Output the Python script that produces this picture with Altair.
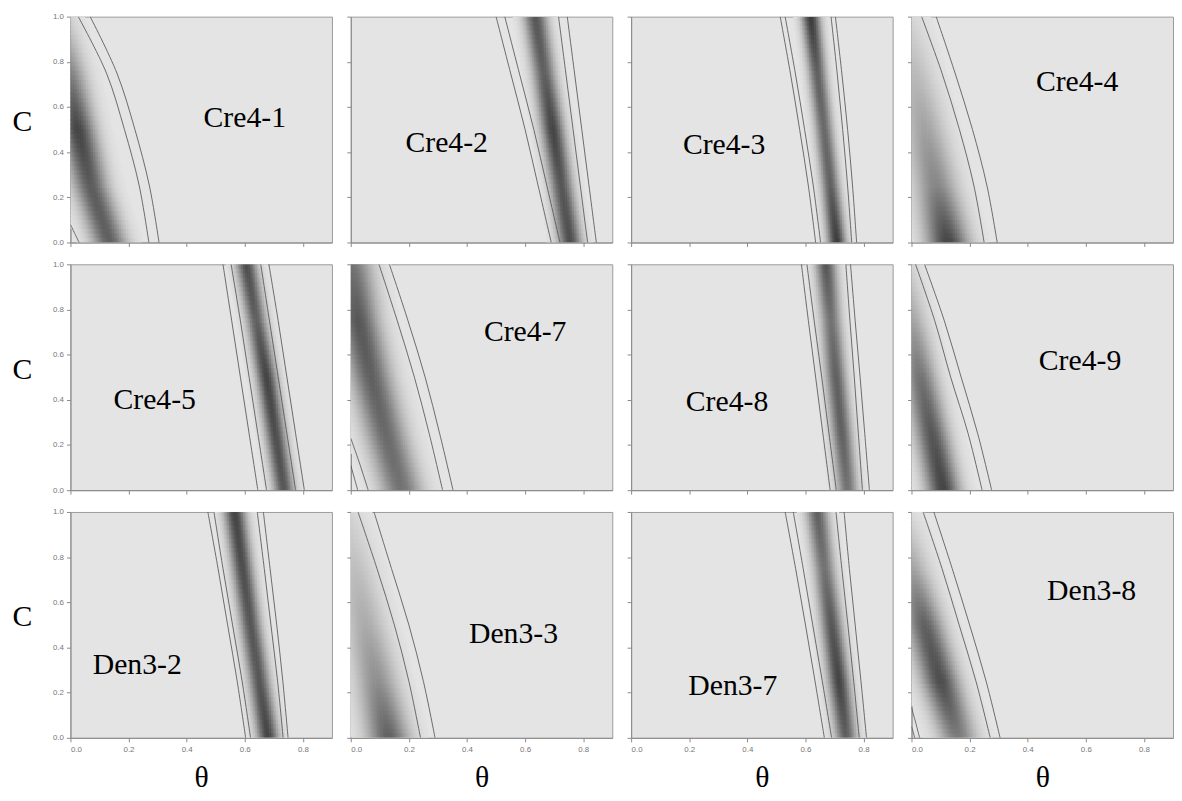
import numpy as np
import pandas as pd
import altair as alt

# ---------------- data ----------------
NAMES = ["Cre4-1", "Cre4-2", "Cre4-3", "Cre4-4",
         "Cre4-5", "Cre4-7", "Cre4-8", "Cre4-9",
         "Den3-2", "Den3-3", "Den3-7", "Den3-8"]

# where each panel name sits (theta, C)
LABEL_THETA = [0.60, 0.33, 0.32, 0.57, 0.29, 0.60, 0.33, 0.58, 0.23, 0.56, 0.35, 0.62]
LABEL_C = [0.55, 0.44, 0.43, 0.71, 0.40, 0.70, 0.39, 0.57, 0.32, 0.46, 0.23, 0.65]

# C levels at which ridge / contour positions were read
C_LEVELS = [0.0, 0.25, 0.5, 0.75, 1.0]

# ridge (dark band) centre theta at each C level
RIDGE_CENTER = [
    [0.135, 0.070, 0.025, -0.010, -0.050],
    [0.755, 0.725, 0.695, 0.665, 0.635],
    [0.708, 0.686, 0.664, 0.641, 0.618],
    [0.125, 0.085, 0.045, 0.005, -0.035],
    [0.735, 0.705, 0.675, 0.640, 0.605],
    [0.175, 0.120, 0.070, 0.025, 0.000],
    [0.745, 0.725, 0.705, 0.688, 0.670],
    [0.110, 0.070, 0.030, -0.005, -0.040],
    [0.680, 0.650, 0.620, 0.592, 0.565],
    [0.130, 0.090, 0.050, 0.010, -0.030],
    [0.740, 0.715, 0.690, 0.665, 0.640],
    [0.160, 0.100, 0.045, -0.005, -0.050],
]
# ridge darkness (0 = background, 1 = black) at each C level
RIDGE_PEAK = [
    [0.70, 0.72, 0.85, 0.55, 0.20],
    [0.80, 0.75, 0.85, 0.70, 0.75],
    [0.90, 0.70, 0.65, 0.70, 0.90],
    [0.85, 0.50, 0.35, 0.22, 0.10],
    [0.75, 0.80, 0.85, 0.70, 0.80],
    [0.60, 0.65, 0.70, 0.75, 0.60],
    [0.60, 0.70, 0.70, 0.60, 0.75],
    [0.85, 0.75, 0.60, 0.35, 0.15],
    [0.85, 0.75, 0.75, 0.80, 0.85],
    [0.70, 0.45, 0.30, 0.20, 0.10],
    [0.70, 0.85, 0.75, 0.60, 0.70],
    [0.55, 0.80, 0.70, 0.35, 0.10],
]
# ridge half-width (theta units)
RIDGE_WIDTH = [0.042, 0.028, 0.022, 0.05, 0.025, 0.05, 0.025, 0.04, 0.026, 0.05, 0.026, 0.045]

# contour lines: theta at each C level
CONTOURS = [
    [[0.270, 0.237, 0.186, 0.124, 0.027], [0.305, 0.272, 0.222, 0.160, 0.068]],
    [[0.690, 0.645, 0.600, 0.550, 0.500], [0.720, 0.675, 0.630, 0.580, 0.530],
     [0.815, 0.790, 0.765, 0.740, 0.715], [0.845, 0.820, 0.795, 0.770, 0.745]],
    [[0.635, 0.610, 0.580, 0.548, 0.513], [0.652, 0.627, 0.597, 0.565, 0.530],
     [0.759, 0.745, 0.728, 0.709, 0.688], [0.776, 0.762, 0.745, 0.725, 0.703]],
    [[0.250, 0.215, 0.165, 0.105, 0.035], [0.295, 0.260, 0.210, 0.150, 0.085]],
    [[0.645, 0.615, 0.585, 0.555, 0.525], [0.675, 0.645, 0.615, 0.585, 0.553],
     [0.775, 0.745, 0.715, 0.685, 0.655], [0.805, 0.775, 0.745, 0.715, 0.683]],
    [[0.316, 0.270, 0.219, 0.160, 0.097], [0.352, 0.306, 0.256, 0.197, 0.133]],
    [[0.685, 0.660, 0.635, 0.610, 0.586], [0.706, 0.681, 0.656, 0.630, 0.605],
     [0.796, 0.782, 0.768, 0.753, 0.739], [0.820, 0.804, 0.788, 0.771, 0.755]],
    [[0.243, 0.195, 0.135, 0.080, 0.014], [0.276, 0.228, 0.171, 0.113, 0.045]],
    [[0.603, 0.574, 0.541, 0.508, 0.473], [0.620, 0.591, 0.558, 0.525, 0.494],
     [0.732, 0.713, 0.690, 0.667, 0.643], [0.749, 0.731, 0.710, 0.687, 0.664]],
    [[0.240, 0.200, 0.150, 0.090, 0.025], [0.290, 0.250, 0.200, 0.140, 0.080]],
    [[0.665, 0.633, 0.600, 0.566, 0.530], [0.690, 0.658, 0.625, 0.592, 0.558],
     [0.785, 0.766, 0.746, 0.725, 0.705], [0.810, 0.791, 0.771, 0.751, 0.733]],
    [[0.271, 0.222, 0.164, 0.105, 0.040], [0.305, 0.257, 0.200, 0.140, 0.077]],
]
# small corner contours (theta list, C list) per panel index
SMALL_PANEL = [0, 5, 5, 11, 11]
SMALL_THETA = [[0.0, 0.015, 0.030], [0.0, 0.030, 0.060], [0.0, 0.012, 0.024],
               [0.0, 0.015, 0.028], [0.0, 0.006, 0.011]]
SMALL_C = [[0.08, 0.04, 0.0], [0.23, 0.12, 0.0], [0.11, 0.055, 0.0],
           [0.135, 0.065, 0.0], [0.05, 0.025, 0.0]]

X_TICKS = [0.0, 0.2, 0.4, 0.6, 0.8]
Y_TICKS = [0.0, 0.2, 0.4, 0.6, 0.8, 1.0]

# ---------------- layout / style ----------------
W, H = 264, 228
TH_MAX = 0.9
BG = 228
DARK = 40
D_TH, D_C = 0.006, 0.02

th0 = np.arange(0, TH_MAX, D_TH)
c0 = np.arange(0, 1.0, D_C)


def heat_frame(i):
    recs = []
    for cc in c0:
        cm = cc + D_C / 2
        cen = np.interp(cm, C_LEVELS, RIDGE_CENTER[i])
        pk = np.interp(cm, C_LEVELS, RIDGE_PEAK[i])
        d = pk * np.exp(-0.5 * ((th0 + D_TH / 2 - cen) / RIDGE_WIDTH[i]) ** 2)
        for t, dv in zip(th0, d):
            if dv > 0.015:
                g = int(round(BG - dv * (BG - DARK)))
                recs.append({"t0": t, "t1": min(t + D_TH * 1.35, TH_MAX),
                             "c0": cc, "c1": min(cc + D_C * 1.3, 1.0),
                             "col": "#%02x%02x%02x" % (g, g, g)})
    return pd.DataFrame(recs)


def line_frame(i):
    recs = []
    for k, th in enumerate(CONTOURS[i]):
        for j, (t, c) in enumerate(zip(th, C_LEVELS)):
            recs.append({"t": t, "c": c, "lid": "L%d" % k, "o": j})
    for s, p in enumerate(SMALL_PANEL):
        if p == i:
            for j, (t, c) in enumerate(zip(SMALL_THETA[s], SMALL_C[s])):
                recs.append({"t": t, "c": c, "lid": "S%d" % s, "o": j})
    return pd.DataFrame(recs)


AX_COL = "#8a8a8a"


def panel(i):
    r, c = divmod(i, 4)
    xs = alt.Scale(domain=[0, TH_MAX], nice=False, zero=False)
    ys = alt.Scale(domain=[0, 1], nice=False, zero=False)
    xaxis = alt.Axis(values=X_TICKS, format=".1f", labels=(r == 2), grid=False,
                     tickSize=4, domainColor=AX_COL, tickColor=AX_COL,
                     labelColor="#777777", labelFont="Liberation Sans", labelFontSize=8,
                     labelPadding=4, titleFont="Liberation Serif", titleFontSize=30,
                     titleFontWeight="normal", titleColor="#000000",
                     titleY=40, titleBaseline="middle")
    yaxis = alt.Axis(values=Y_TICKS, format=".1f", labels=(c == 0), grid=False,
                     tickSize=4, domainColor=AX_COL, tickColor=AX_COL,
                     labelColor="#777777", labelFont="Liberation Sans", labelFontSize=8,
                     labelPadding=3, titleFont="Liberation Serif", titleFontSize=30,
                     titleFontWeight="normal", titleColor="#000000", titleAngle=0,
                     titleX=-49, titleY=106, titleAlign="center", titleBaseline="middle")
    xt = "θ" if r == 2 else None
    yt = "C" if c == 0 else None

    heat = alt.Chart(heat_frame(i)).mark_rect(clip=True).encode(
        x=alt.X("t0:Q", scale=xs, axis=xaxis, title=xt),
        x2="t1:Q",
        y=alt.Y("c0:Q", scale=ys, axis=yaxis, title=yt),
        y2="c1:Q",
        fill=alt.Fill("col:N", scale=None),
    )
    lines = alt.Chart(line_frame(i)).mark_line(
        color="#555555", strokeWidth=0.85, interpolate="catmull-rom", clip=True
    ).encode(
        x=alt.X("t:Q", scale=xs, axis=xaxis, title=xt),
        y=alt.Y("c:Q", scale=ys, axis=yaxis, title=yt),
        detail="lid:N",
        order="o:Q",
    )
    lab = alt.Chart(pd.DataFrame({"t": [LABEL_THETA[i]], "c": [LABEL_C[i]],
                                  "name": [NAMES[i]]})).mark_text(
        font="Liberation Serif", fontSize=30, color="#000000"
    ).encode(
        x=alt.X("t:Q", scale=xs, axis=xaxis, title=xt),
        y=alt.Y("c:Q", scale=ys, axis=yaxis, title=yt),
        text="name:N",
    )
    return alt.layer(heat, lines, lab).properties(width=W, height=H)


rows = [alt.hconcat(*[panel(r * 4 + c) for c in range(4)], spacing=13) for r in range(3)]
chart = alt.vconcat(*rows, spacing=12).configure_view(
    fill="#e4e4e4", stroke="#9a9a9a", strokeWidth=1
).properties(background="#ffffff",
             padding={"left": 3, "right": 0, "top": 0, "bottom": 0})

chart.save("out.html", embed_options={"renderer": "svg", "actions": False})
